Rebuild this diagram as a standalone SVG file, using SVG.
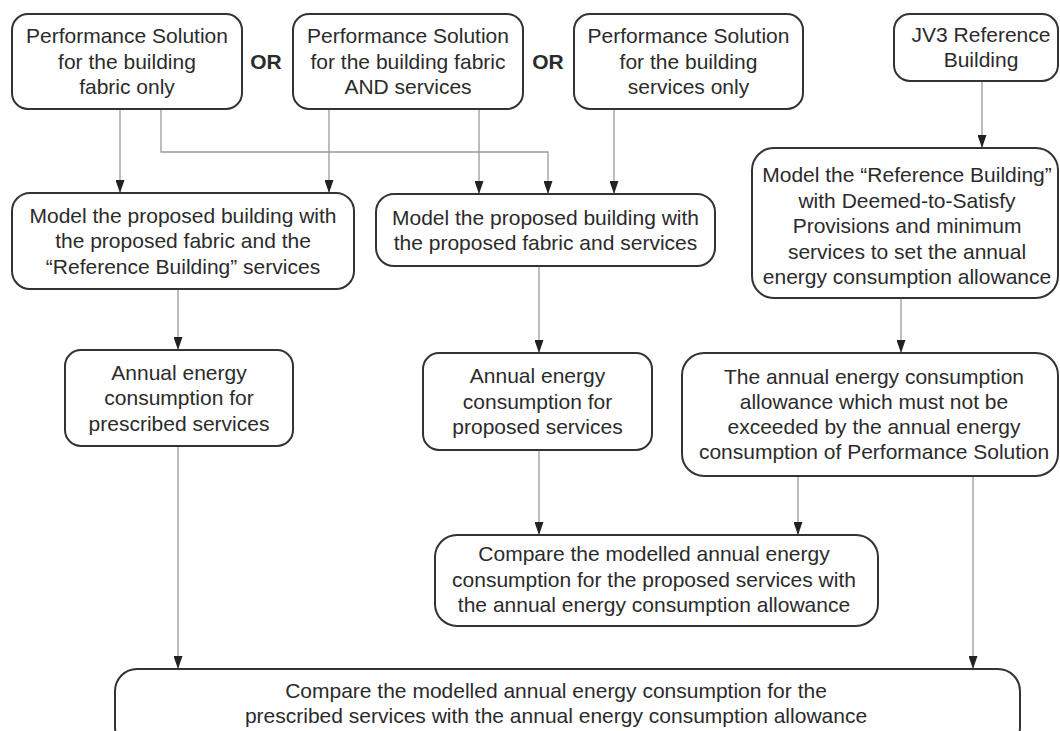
<svg xmlns="http://www.w3.org/2000/svg" width="1060" height="731" viewBox="0 0 1060 731">
  <style>
    .box { fill: #ffffff; stroke: #333333; stroke-width: 2; }
    .t { font-family: "Liberation Sans", Arial, sans-serif; font-size: 21px; fill: #2b2b2b; text-anchor: middle; }
    .or { font-family: "Liberation Sans", Arial, sans-serif; font-size: 21px; font-weight: bold; fill: #2b2b2b; text-anchor: middle; }
    .c { fill: none; stroke: #9a9a9a; stroke-width: 1.3; marker-end: url(#arr); }
  </style>
  <defs>
    <marker id="arr" viewBox="0 0 13 9" refX="13" refY="4.5" markerWidth="13" markerHeight="9" markerUnits="userSpaceOnUse" orient="auto">
      <path d="M0,0 L13,4.5 L0,9 z" fill="#222222"/>
    </marker>
  </defs>
  <rect width="1060" height="731" fill="#ffffff"/>

  <g id="connectors">
    <path class="c" d="M120,109 V193"/>
    <path class="c" d="M161,109 V152 H548 V194"/>
    <path class="c" d="M329,109 V193"/>
    <path class="c" d="M479,109 V194"/>
    <path class="c" d="M614,109 V194"/>
    <path class="c" d="M982,81 V148"/>
    <path class="c" d="M178,289 V350"/>
    <path class="c" d="M539,266 V353"/>
    <path class="c" d="M901,298 V353"/>
    <path class="c" d="M178,446 V669"/>
    <path class="c" d="M539,450 V535"/>
    <path class="c" d="M798,476 V535"/>
    <path class="c" d="M973,476 V669"/>
  </g>

  <g id="or1"><text class="or" x="266" y="69">OR</text></g>
  <g id="or2"><text class="or" x="548" y="69">OR</text></g>

  <g id="ps-fabric">
    <rect class="box" x="12" y="14" width="230" height="95" rx="16"/>
    <text class="t" x="127" y="43">Performance Solution</text>
    <text class="t" x="127" y="68.5">for the building</text>
    <text class="t" x="127" y="94">fabric only</text>
  </g>

  <g id="ps-fabric-services">
    <rect class="box" x="293" y="14" width="230" height="95" rx="16"/>
    <text class="t" x="408" y="43">Performance Solution</text>
    <text class="t" x="408" y="68.5">for the building fabric</text>
    <text class="t" x="408" y="94">AND services</text>
  </g>

  <g id="ps-services">
    <rect class="box" x="574" y="14" width="229" height="95" rx="16"/>
    <text class="t" x="688.5" y="43">Performance Solution</text>
    <text class="t" x="688.5" y="68.5">for the building</text>
    <text class="t" x="688.5" y="94">services only</text>
  </g>

  <g id="jv3">
    <rect class="box" x="894" y="14" width="164" height="67" rx="16"/>
    <text class="t" x="981" y="41.5">JV3 Reference</text>
    <text class="t" x="981" y="67">Building</text>
  </g>

  <g id="model-fabric">
    <rect class="box" x="12" y="193" width="342" height="96" rx="18"/>
    <text class="t" x="183" y="222.5">Model the proposed building with</text>
    <text class="t" x="183" y="248">the proposed fabric and the</text>
    <text class="t" x="183" y="273.5">“Reference Building” services</text>
  </g>

  <g id="model-fabric-services">
    <rect class="box" x="376" y="194" width="339" height="72" rx="18"/>
    <text class="t" x="545.5" y="224.5">Model the proposed building with</text>
    <text class="t" x="545.5" y="250">the proposed fabric and services</text>
  </g>

  <g id="model-reference">
    <rect class="box" x="752" y="148" width="306" height="150" rx="22"/>
    <text class="t" x="907" y="182">Model the “Reference Building”</text>
    <text class="t" x="907" y="207.5">with Deemed-to-Satisfy</text>
    <text class="t" x="907" y="233">Provisions and minimum</text>
    <text class="t" x="907" y="258.5">services to set the annual</text>
    <text class="t" x="907" y="284">energy consumption allowance</text>
  </g>

  <g id="annual-prescribed">
    <rect class="box" x="65" y="350" width="228" height="96" rx="16"/>
    <text class="t" x="179" y="379.5">Annual energy</text>
    <text class="t" x="179" y="405">consumption for</text>
    <text class="t" x="179" y="430.5">prescribed services</text>
  </g>

  <g id="annual-proposed">
    <rect class="box" x="423" y="353" width="229" height="97" rx="16"/>
    <text class="t" x="537.5" y="383">Annual energy</text>
    <text class="t" x="537.5" y="408.5">consumption for</text>
    <text class="t" x="537.5" y="434">proposed services</text>
  </g>

  <g id="allowance">
    <rect class="box" x="682" y="353" width="376" height="123" rx="22"/>
    <text class="t" x="874" y="384">The annual energy consumption</text>
    <text class="t" x="874" y="409">allowance which must not be</text>
    <text class="t" x="874" y="434">exceeded by the annual energy</text>
    <text class="t" x="874" y="459">consumption of Performance Solution</text>
  </g>

  <g id="compare-proposed">
    <rect class="box" x="435" y="535" width="443" height="91" rx="22"/>
    <text class="t" x="654" y="561">Compare the modelled annual energy</text>
    <text class="t" x="654" y="586.5">consumption for the proposed services with</text>
    <text class="t" x="654" y="612">the annual energy consumption allowance</text>
  </g>

  <g id="compare-prescribed">
    <rect class="box" x="115" y="669" width="905" height="80" rx="22"/>
    <text class="t" x="556" y="698">Compare the modelled annual energy consumption for the</text>
    <text class="t" x="556" y="723">prescribed services with the annual energy consumption allowance</text>
  </g>
</svg>
